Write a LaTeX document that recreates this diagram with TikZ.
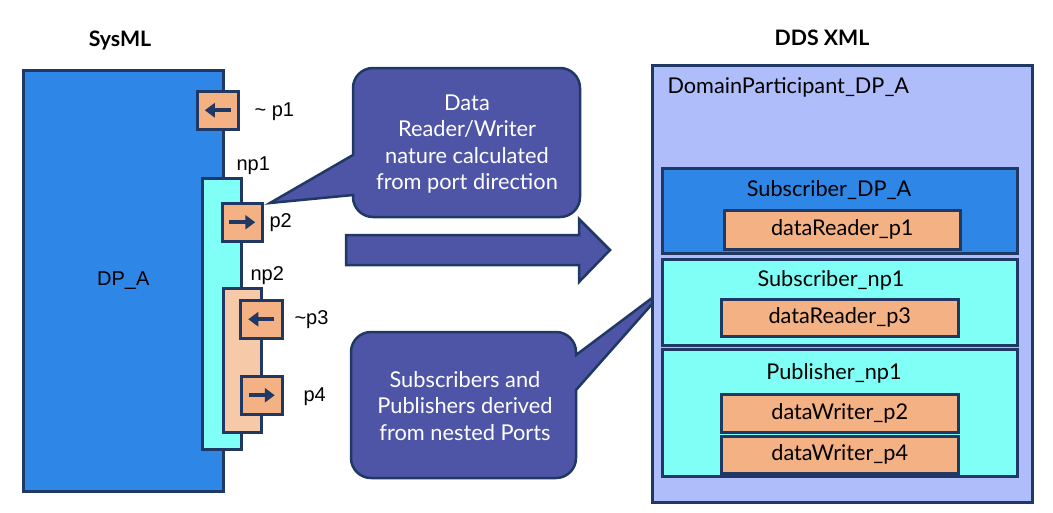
\documentclass[tikz,border=0pt]{standalone}
\usepackage{fontspec}
\setmainfont{Lato}
\newfontfamily\arialfont{Liberation Sans}
\usetikzlibrary{arrows.meta}

\definecolor{navy}{HTML}{1F3864}
\definecolor{dpblue}{HTML}{2E86E6}
\definecolor{nestcyan}{HTML}{80FFF6}
\definecolor{portorange}{HTML}{F4B183}
\definecolor{nestpeach}{HTML}{F6C9A8}
\definecolor{lavender}{HTML}{AFBDFB}
\definecolor{calloutblue}{HTML}{4F55A6}

\tikzset{
  box/.style={draw=navy, line width=2.5pt, inner sep=0pt, anchor=north west},
  portbox/.style={box, fill=portorange, minimum width=41pt, minimum height=38pt},
  portarrow/.style={navy, line width=4pt, -{Triangle[length=10pt,width=14pt]}},
  lbl/.style={font=\arialfont\fontsize{20}{23}\selectfont},
  ddstext/.style={font=\fontsize{21.7}{25}\selectfont},
  databox/.style={box, fill=portorange, ddstext, minimum width=237pt},
  title/.style={font=\bfseries\fontsize{21.3}{24}\selectfont},
  callout/.style={draw=navy, line width=2.5pt, fill=calloutblue},
  callouttext/.style={white, align=center, font=\fontsize{21.8}{26.5}\selectfont}
}

\begin{document}
\begin{tikzpicture}[x=1pt,y=-1pt]
  \useasboundingbox (0,0) rectangle (1053,512);

  % SysML side
  \node[title] (sysml) at (120,40) {SysML};
  \node[box, fill=dpblue, minimum width=200pt, minimum height=421pt] (dpa) at (22,69) {};
  \node[lbl] (dpalbl) at (dpa.center) {DP\_A};

  \node[portbox] (p1) at (196,90) {};
  \draw[portarrow] ([xshift=13pt]p1.center) -- ([xshift=-13pt]p1.center);
  \node[lbl, anchor=west] (p1lbl) at (251,112) {\textasciitilde\ p1};

  \node[box, fill=nestcyan, minimum width=39pt, minimum height=271pt] (np1) at (201,177) {};
  \node[lbl, anchor=west] (np1lbl) at (233,166) {np1};

  \node[portbox, minimum width=40pt] (p2) at (221,202) {};
  \draw[portarrow] ([xshift=-13pt]p2.center) -- ([xshift=13pt]p2.center);
  \node[lbl, anchor=west] (p2lbl) at (266,223) {p2};

  \node[box, fill=nestpeach, minimum width=38pt, minimum height=144pt] (np2) at (222,287) {};
  \node[lbl, anchor=west] (np2lbl) at (247,276) {np2};

  \node[portbox, minimum width=42pt] (p3) at (239,299) {};
  \draw[portarrow] ([xshift=13pt]p3.center) -- ([xshift=-13pt]p3.center);
  \node[lbl, anchor=west] (p3lbl) at (291,320) {\textasciitilde p3};

  \node[portbox] (p4) at (240,375) {};
  \draw[portarrow] ([xshift=-13pt]p4.center) -- ([xshift=13pt]p4.center);
  \node[lbl, anchor=west] (p4lbl) at (300,397) {p4};

  % callouts and arrow
  \draw[callout] (353,155) [rounded corners=20pt] -- (353,68) -- (580,68) -- (580,217) -- (353,217)
    [sharp corners] -- (353,195) -- (270,203) -- cycle;
  \node[callouttext] (note1) at (467,144) {Data\\Reader/Writer\\nature calculated\\from port direction};

  \draw[callout] (576,390) [rounded corners=20pt] -- (576,478) -- (351,478) -- (351,332) -- (576,332)
    [sharp corners] -- (576,355) -- (668,286) -- cycle;
  \node[callouttext] (note2) at (465,406) {Subscribers and\\Publishers derived\\from nested Ports};

  \draw[callout] (346,235) -- (579,235) -- (579,219) -- (610,250) -- (579,282) -- (579,265) -- (346,265) -- cycle;

  % DDS XML side
  \node[title] (ddsxml) at (822,38) {DDS XML};
  \node[box, fill=lavender, minimum width=380pt, minimum height=437pt] (dp) at (651,64) {};
  \node[ddstext, anchor=west] (dplbl) at (664,87) {DomainParticipant\_DP\_A};

  \node[box, fill=dpblue, minimum width=355pt, minimum height=85pt] (sub) at (661,167) {};
  \node[ddstext] (sublbl) at (829,190) {Subscriber\_DP\_A};
  \node[databox, minimum width=236pt, minimum height=39pt] (dr1) at (723,209) {dataReader\_p1};

  \node[box, fill=nestcyan, minimum width=355pt, minimum height=86pt] (subnp) at (661,258) {};
  \node[ddstext] (subnplbl) at (831,280) {Subscriber\_np1};
  \node[databox, minimum height=37pt] (dr3) at (720,298) {dataReader\_p3};

  \node[box, fill=nestcyan, minimum width=355pt, minimum height=127pt] (pubnp) at (661,348) {};
  \node[ddstext] (pubnplbl) at (834,373) {Publisher\_np1};
  \node[databox, minimum height=38pt] (dw2) at (720,393) {dataWriter\_p2};
  \node[databox, minimum height=37pt] (dw4) at (720,435) {dataWriter\_p4};
\end{tikzpicture}
\end{document}
